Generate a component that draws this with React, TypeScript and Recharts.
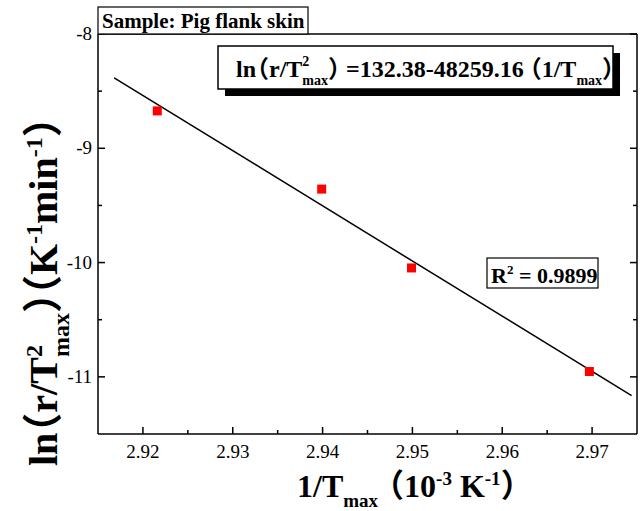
import React from "react";
import { ScatterChart, Scatter, XAxis, YAxis } from "recharts";

// measured points: 1/Tmax (10^-3 K^-1) vs ln(r/Tmax^2)
const invT = [2.9216, 2.9399, 2.9499, 2.9697];
const lnRT2 = [-8.673, -9.357, -10.047, -10.953];

// end points of the fitted line ln = 132.38 - 48259.16 (1/Tmax)
const fitX = [2.9168, 2.9744];
const fitY = [-8.384, -11.164];

const xTicks = [2.92, 2.925, 2.93, 2.935, 2.94, 2.945, 2.95, 2.955, 2.96, 2.965, 2.97];
const yTicks = [-11, -10.5, -10, -9.5, -9, -8.5, -8];

const points = invT.map((x, i) => ({ x, y: lnRT2[i] }));
const fit = fitX.map((x, i) => ({ x, y: fitY[i] }));

const FONT = "Liberation Serif, Times New Roman, serif";
const CJK = "Noto Sans CJK SC, sans-serif";

const isMajorX = (v: number) => Math.abs(v * 100 - Math.round(v * 100)) < 1e-6;
const isMajorY = (v: number) => Math.abs(v - Math.round(v)) < 1e-6;

function makeTick(side: "bottom" | "top" | "left" | "right") {
  return (props: any) => {
    const { x, y, payload } = props;
    const v = payload.value as number;
    const horiz = side === "bottom" || side === "top";
    const major = horiz ? isMajorX(v) : isMajorY(v);
    const len = major ? 7 : 4;
    let line;
    if (side === "bottom") line = <line x1={x} x2={x} y1={y} y2={y - len} />;
    else if (side === "top") line = <line x1={x} x2={x} y1={y} y2={y + len} />;
    else if (side === "left") line = <line x1={x} x2={x + len} y1={y} y2={y} />;
    else line = <line x1={x} x2={x - len} y1={y} y2={y} />;
    return (
      <g>
        <g stroke="#000" strokeWidth={1.5}>{line}</g>
        {major && side === "bottom" && (
          <text x={x} y={y + 24} textAnchor="middle" fontSize={19} style={{ fontFamily: FONT }} fill="#000">
            {v.toFixed(2)}
          </text>
        )}
        {major && side === "left" && (
          <text x={x - 6} y={y + 6} textAnchor="end" fontSize={19} style={{ fontFamily: FONT }} fill="#000">
            {String(v)}
          </text>
        )}
      </g>
    );
  };
}

const square = (props: any) => (
  <rect x={props.cx - 4.5} y={props.cy - 4.5} width={9} height={9} fill="#ff0000" />
);

const axisLine = { stroke: "#000", strokeWidth: 1.5 };

// full-width bracket drawn with a CJK face
const P = ({ c, dx, dy }: { c: string; dx?: number; dy?: number }) => (
  <tspan dx={dx} dy={dy} style={{ fontFamily: CJK }}>{c}</tspan>
);

export default function App() {
  return (
    <div style={{ position: "absolute", left: 0, top: 0, width: 643, height: 511, background: "#fff" }}>
      <ScatterChart width={643} height={511} margin={{ top: 0, right: 0, bottom: 0, left: 0 }}>
        <XAxis
          dataKey="x"
          type="number"
          domain={[2.915, 2.975]}
          ticks={xTicks}
          allowDataOverflow
          height={77}
          axisLine={axisLine}
          tickLine={false}
          tickSize={0}
          tickMargin={0}
          tick={makeTick("bottom")}
          interval={0}
        />
        <XAxis
          xAxisId="top"
          orientation="top"
          type="number"
          domain={[2.915, 2.975]}
          ticks={xTicks}
          allowDataOverflow
          height={34}
          axisLine={axisLine}
          tickLine={false}
          tickSize={0}
          tickMargin={0}
          tick={makeTick("top")}
          interval={0}
        />
        <YAxis
          dataKey="y"
          type="number"
          domain={[-11.5, -8]}
          ticks={yTicks}
          allowDataOverflow
          width={98}
          axisLine={axisLine}
          tickLine={false}
          tickSize={0}
          tickMargin={0}
          tick={makeTick("left")}
          interval={0}
        />
        <YAxis
          yAxisId="right"
          orientation="right"
          type="number"
          domain={[-11.5, -8]}
          ticks={yTicks}
          allowDataOverflow
          width={6}
          axisLine={axisLine}
          tickLine={false}
          tickSize={0}
          tickMargin={0}
          tick={makeTick("right")}
          interval={0}
        />
        <Scatter
          data={fit}
          line={{ stroke: "#000", strokeWidth: 1.5 }}
          shape={() => <g />}
          isAnimationActive={false}
        />
        <Scatter data={points} shape={square} isAnimationActive={false} />
      </ScatterChart>

      <svg
        width={643}
        height={511}
        style={{ position: "absolute", left: 0, top: 0, pointerEvents: "none", fontFamily: FONT, fontWeight: "bold" }}
      >
        {/* sample label */}
        <rect x={98} y={7} width={210} height={27} fill="#fff" stroke="#000" strokeWidth={1.2} />
        <text x={102} y={28} fontSize={21}>Sample: Pig flank skin</text>

        {/* equation box with shadow */}
        <rect x={225} y={53} width={395} height={43} fill="#000" />
        <rect x={218} y={46} width={395} height={43} fill="#fff" stroke="#000" strokeWidth={1.5} />
        <text x={236} y={77} fontSize={24}>
          ln
          <P c="（" dx={-11} />
          <tspan>r/T</tspan>
          <tspan dy={-11} fontSize={14}>2</tspan>
          <tspan dx={-7} dy={19} fontSize={14}>max</tspan>
          <P c="）" dy={-8} />
          <tspan dx={-6}>=132.38-48259.16</tspan>
          <P c="（" dx={-6} />
          <tspan>1/T</tspan>
          <tspan dy={8} fontSize={14}>max</tspan>
          <P c="）" dy={-8} />
        </text>

        {/* R squared */}
        <rect x={487} y={258} width={111} height={30} fill="#fff" stroke="#000" strokeWidth={1.2} />
        <text x={491} y={283} fontSize={22}>
          R<tspan dy={-9} fontSize={13}>2</tspan>
          <tspan dy={9}> = 0.9899</tspan>
        </text>

        {/* x axis title */}
        <text x={297} y={497} fontSize={32}>
          1/T<tspan dy={10} fontSize={19}>max</tspan>
          <P c="（" dx={-6} dy={-10} />
          <tspan>10</tspan>
          <tspan dy={-12} fontSize={19}>-3</tspan>
          <tspan dy={12}> K</tspan>
          <tspan dy={-12} fontSize={19}>-1</tspan>
          <P c="）" dy={12} />
        </text>

        {/* y axis title */}
        <text transform="translate(57,466) rotate(-90)" fontSize={40}>
          ln
          <P c="（" dx={-20} />
          <tspan>r/T</tspan>
          <tspan dy={-15} fontSize={24}>2</tspan>
          <tspan dx={-12} dy={27} fontSize={24}>max</tspan>
          <P c="）" dy={-12} />
          <P c="（" dx={-22} />
          <tspan>K</tspan>
          <tspan dy={-15} fontSize={24}>-1</tspan>
          <tspan dy={15}>min</tspan>
          <tspan dy={-15} fontSize={24}>-1</tspan>
          <P c="）" dy={15} />
        </text>
      </svg>
    </div>
  );
}
